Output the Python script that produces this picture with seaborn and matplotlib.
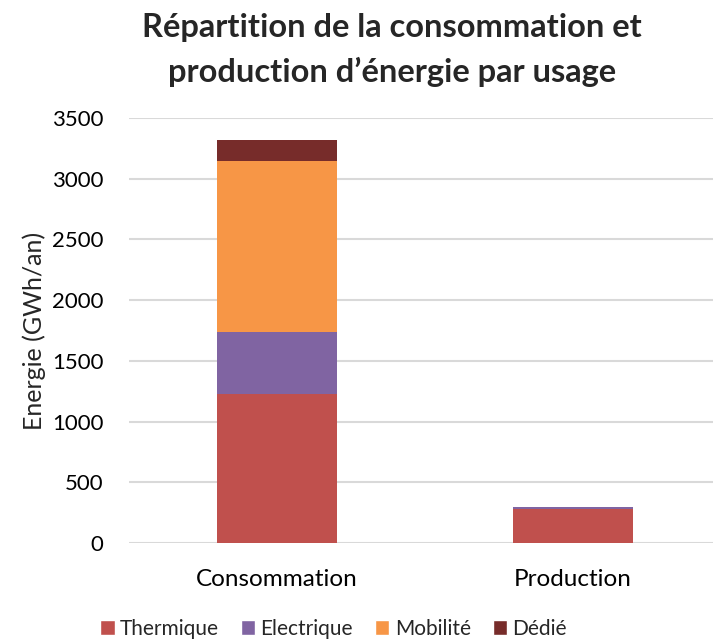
import pandas as pd
import matplotlib.pyplot as plt
import seaborn as sns
from matplotlib.patches import Patch

# Data (GWh/an)
categories = ['Consommation', 'Production']
usages = ['Thermique', 'Electrique', 'Mobilité', 'Dédié']
thermique = [1228, 280]
electrique = [511, 17]
mobilite = [1409, 0]
dedie = [173, 0]
colors = ['#c0504d', '#8064a2', '#f79646', '#772c2a']

df = pd.DataFrame({'Catégorie': categories, 'Thermique': thermique,
                   'Electrique': electrique, 'Mobilité': mobilite,
                   'Dédié': dedie})

sns.set_style('white')
plt.rcParams['font.family'] = ['Lato', 'DejaVu Sans']

fig = plt.figure(figsize=(7.13, 6.4), dpi=100)
ax = fig.add_axes([129 / 713, 97 / 640, (713 - 129) / 713, 425 / 640])

# Stacked bars
bottom = [0] * len(categories)
for usage, color in zip(usages, colors):
    sns.barplot(data=df, x='Catégorie', y=usage, color=color, width=0.405,
                bottom=bottom, ax=ax, saturation=1, linewidth=0)
    bottom = [b + v for b, v in zip(bottom, df[usage])]

ax.set_ylim(0, 3500)
ax.set_xlim(-0.5, -0.5 + (713 - 129) / 296)
ax.set_yticks(range(0, 3501, 500))
ax.yaxis.grid(True, color='#d9d9d9', linewidth=1.5)
ax.set_axisbelow(True)
for s in ax.spines.values():
    s.set_visible(False)
ax.tick_params(axis='both', length=0, colors='black')
ax.tick_params(axis='y', pad=18.5, labelsize=16)
ax.tick_params(axis='x', pad=19, labelsize=17.5)
ax.set_xlabel('')
ax.set_ylabel('Energie (GWh/an)', fontsize=18, labelpad=4)

fig.text(0.55, 1 - 50 / 640,
         'Répartition de la consommation et\nproduction d’énergie par usage',
         fontsize=23.5, fontweight='bold', ha='center', va='center',
         linespacing=1.55)

handles = [Patch(facecolor=c, label=u) for u, c in zip(usages, colors)]
fig.legend(handles=handles, loc='lower left', ncol=4, frameon=False,
           fontsize=15, bbox_to_anchor=(100 / 713, 0.002), borderpad=0,
           borderaxespad=0, handlelength=0.7, handleheight=0.7,
           handletextpad=0.25, columnspacing=1.05)

fig.savefig('out.png', dpi=100)
